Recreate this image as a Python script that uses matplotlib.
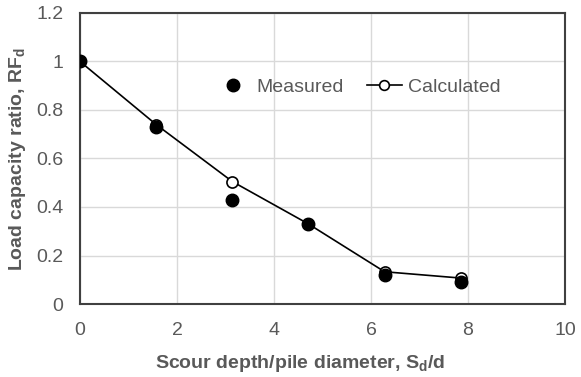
import matplotlib
matplotlib.use("Agg")
import matplotlib.pyplot as plt
from matplotlib.lines import Line2D

# ── Data ──────────────────────────────────────────────────
scour_ratio = [0.0, 1.57, 3.14, 4.71, 6.28, 7.85]
measured = [1.0, 0.73, 0.43, 0.33, 0.12, 0.09]
calculated = [1.0, 0.74, 0.505, 0.33, 0.133, 0.107]

x_ticks = [0, 2, 4, 6, 8, 10]
y_ticks = [0, 0.2, 0.4, 0.6, 0.8, 1.0, 1.2]
y_tick_labels = ["0", "0.2", "0.4", "0.6", "0.8", "1", "1.2"]

# ── Style ─────────────────────────────────────────────────
TEXT_GRAY = "#595959"
FRAME_GRAY = "#404040"
GRID_GRAY = "#d9d9d9"
FONT_SIZE = 14

plt.rcParams["font.family"] = ["Liberation Sans", "DejaVu Sans"]

fig = plt.figure(figsize=(5.81, 3.77), dpi=100)
ax = fig.add_axes([0.1377, 0.1936, 0.8348, 0.772])

ax.plot(scour_ratio, calculated, "-o", color="black", linewidth=1.2,
        markersize=8, markerfacecolor="white", markeredgecolor="black",
        markeredgewidth=1.2, zorder=3)
ax.plot(scour_ratio, measured, "o", color="black", markersize=9,
        linestyle="none", zorder=4)

ax.set_xlim(0, 10)
ax.set_ylim(0, 1.2)
ax.set_xticks(x_ticks)
ax.set_yticks(y_ticks)
ax.set_yticklabels(y_tick_labels)
ax.grid(True, color=GRID_GRAY, linewidth=1.0)
ax.set_axisbelow(True)

for spine in ax.spines.values():
    spine.set_color(FRAME_GRAY)
    spine.set_linewidth(1.5)

ax.tick_params(length=0, labelsize=FONT_SIZE, colors=TEXT_GRAY)
ax.tick_params(axis="y", pad=12)
ax.tick_params(axis="x", pad=13)

ax.set_xlabel("Scour depth/pile diameter, S$_{\\mathregular{d}}$/d",
              fontsize=FONT_SIZE, fontweight="bold", color=TEXT_GRAY)
ax.xaxis.set_label_coords(0.454, -0.204)
ax.xaxis.label.set_verticalalignment("center")
ax.set_ylabel("Load capacity ratio, RF$_{\\mathregular{d}}$",
              fontsize=FONT_SIZE, fontweight="bold", color=TEXT_GRAY, labelpad=6)

handles = [
    Line2D([], [], marker="o", color="black", linestyle="none", markersize=9),
    Line2D([], [], marker="o", color="black", linewidth=1.2, markersize=7,
           markerfacecolor="white", markeredgewidth=1.2),
]
leg = ax.legend(handles, ["Measured", "Calculated"], ncol=2, frameon=False,
                loc="center", bbox_to_anchor=(0.573, 0.746), fontsize=FONT_SIZE,
                handlelength=1.8, columnspacing=1.2, handletextpad=0.3)
for txt in leg.get_texts():
    txt.set_color(TEXT_GRAY)

fig.savefig("out.png", dpi=100)
